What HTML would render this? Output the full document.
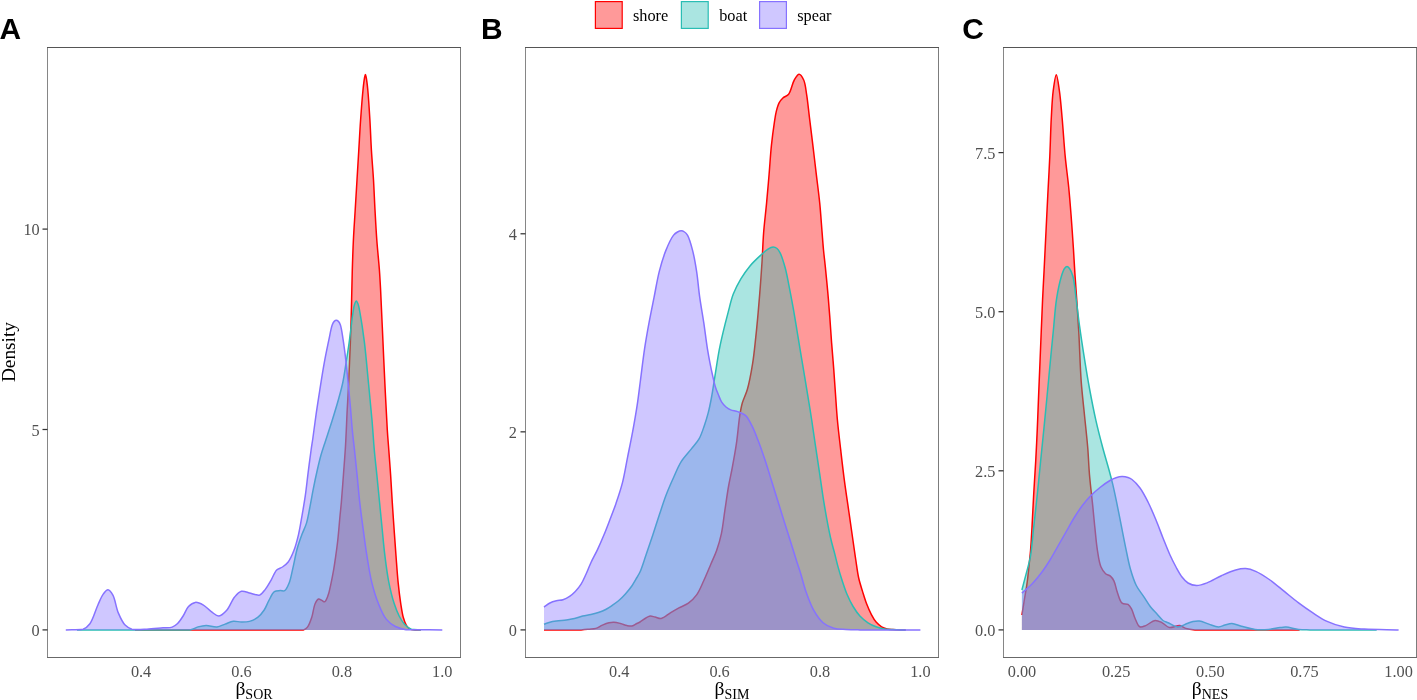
<!DOCTYPE html>
<html><head><meta charset="utf-8"><style>
html,body{margin:0;padding:0;background:#fff;width:1417px;height:700px;overflow:hidden;font-family:"Liberation Serif",serif;}
svg{display:block;will-change:transform;}
</style></head><body>
<svg width="1417" height="700" viewBox="0 0 1417 700" font-family="Liberation Serif, serif">
<rect width="1417" height="700" fill="#fff"/>
<path d="M135.00,629.90 L135.00,629.90 C191.20,629.90 288.74,629.90 303.60,629.90 C306.16,629.05 306.42,628.39 307.60,626.90 C309.29,624.75 310.51,620.90 311.70,617.40 C313.08,613.32 313.59,607.08 315.10,603.80 C316.08,601.67 317.20,599.38 318.50,599.00 C319.53,598.70 320.84,599.91 321.90,600.40 C322.86,600.85 323.76,602.06 324.60,601.80 C325.88,601.41 327.05,598.02 328.00,595.60 C329.19,592.56 329.84,588.62 330.70,584.80 C331.66,580.54 332.60,575.74 333.40,571.20 C334.20,566.68 334.81,562.43 335.50,557.60 C336.28,552.12 337.10,546.33 337.80,540.00 C338.62,532.63 339.35,522.80 340.00,516.00 C340.48,510.98 340.84,508.12 341.30,502.90 C341.98,495.15 342.79,483.56 343.50,474.00 C344.19,464.59 344.91,455.92 345.50,446.00 C346.17,434.76 346.64,421.03 347.20,410.00 C347.67,400.63 348.11,394.35 348.60,384.00 C349.32,368.68 350.28,346.00 350.90,327.00 C351.52,308.00 351.81,285.98 352.30,270.00 C352.65,258.41 352.92,250.00 353.40,240.00 C353.88,230.00 354.60,220.00 355.20,210.00 C355.80,200.00 356.40,190.00 357.00,180.00 C357.60,170.00 358.20,160.00 358.80,150.00 C359.40,140.00 359.90,130.00 360.60,120.00 C361.30,110.00 362.21,97.74 363.00,90.00 C363.50,85.09 363.97,80.82 364.50,78.00 C364.79,76.44 365.10,74.40 365.40,74.40 C365.70,74.40 366.01,76.44 366.30,78.00 C366.83,80.82 367.32,85.09 367.80,90.00 C368.55,97.74 369.30,110.00 369.90,120.00 C370.50,130.00 370.80,140.00 371.40,150.00 C372.00,160.00 372.90,170.00 373.50,180.00 C374.10,190.00 374.45,200.00 375.00,210.00 C375.55,220.00 376.07,230.00 376.80,240.00 C377.53,250.00 378.74,261.01 379.40,270.00 C379.94,277.34 380.19,282.31 380.60,290.00 C381.15,300.45 381.67,313.34 382.30,327.00 C383.08,343.96 384.02,366.02 384.90,384.00 C385.69,400.16 386.53,417.82 387.30,430.00 C387.81,438.04 388.28,442.87 388.80,450.00 C389.40,458.19 390.12,467.59 390.70,476.40 C391.28,485.22 391.73,494.08 392.30,502.90 C392.87,511.71 393.48,520.50 394.10,529.30 C394.72,538.10 395.33,546.90 396.00,555.70 C396.67,564.50 397.26,573.79 398.10,582.10 C398.85,589.56 399.72,596.92 400.70,603.30 C401.52,608.60 402.24,613.74 403.40,617.80 C404.28,620.88 405.19,623.69 406.50,625.70 C407.50,627.23 408.59,628.50 410.00,629.20 C411.42,629.90 413.27,629.78 415.00,629.90 C416.86,629.90 418.87,629.90 420.80,629.90 L420.80,629.90 Z" fill="#FF0000" fill-opacity="0.4" stroke="none"/>
<path d="M135.00,629.90 C191.20,629.90 288.74,629.90 303.60,629.90 C306.16,629.05 306.42,628.39 307.60,626.90 C309.29,624.75 310.51,620.90 311.70,617.40 C313.08,613.32 313.59,607.08 315.10,603.80 C316.08,601.67 317.20,599.38 318.50,599.00 C319.53,598.70 320.84,599.91 321.90,600.40 C322.86,600.85 323.76,602.06 324.60,601.80 C325.88,601.41 327.05,598.02 328.00,595.60 C329.19,592.56 329.84,588.62 330.70,584.80 C331.66,580.54 332.60,575.74 333.40,571.20 C334.20,566.68 334.81,562.43 335.50,557.60 C336.28,552.12 337.10,546.33 337.80,540.00 C338.62,532.63 339.35,522.80 340.00,516.00 C340.48,510.98 340.84,508.12 341.30,502.90 C341.98,495.15 342.79,483.56 343.50,474.00 C344.19,464.59 344.91,455.92 345.50,446.00 C346.17,434.76 346.64,421.03 347.20,410.00 C347.67,400.63 348.11,394.35 348.60,384.00 C349.32,368.68 350.28,346.00 350.90,327.00 C351.52,308.00 351.81,285.98 352.30,270.00 C352.65,258.41 352.92,250.00 353.40,240.00 C353.88,230.00 354.60,220.00 355.20,210.00 C355.80,200.00 356.40,190.00 357.00,180.00 C357.60,170.00 358.20,160.00 358.80,150.00 C359.40,140.00 359.90,130.00 360.60,120.00 C361.30,110.00 362.21,97.74 363.00,90.00 C363.50,85.09 363.97,80.82 364.50,78.00 C364.79,76.44 365.10,74.40 365.40,74.40 C365.70,74.40 366.01,76.44 366.30,78.00 C366.83,80.82 367.32,85.09 367.80,90.00 C368.55,97.74 369.30,110.00 369.90,120.00 C370.50,130.00 370.80,140.00 371.40,150.00 C372.00,160.00 372.90,170.00 373.50,180.00 C374.10,190.00 374.45,200.00 375.00,210.00 C375.55,220.00 376.07,230.00 376.80,240.00 C377.53,250.00 378.74,261.01 379.40,270.00 C379.94,277.34 380.19,282.31 380.60,290.00 C381.15,300.45 381.67,313.34 382.30,327.00 C383.08,343.96 384.02,366.02 384.90,384.00 C385.69,400.16 386.53,417.82 387.30,430.00 C387.81,438.04 388.28,442.87 388.80,450.00 C389.40,458.19 390.12,467.59 390.70,476.40 C391.28,485.22 391.73,494.08 392.30,502.90 C392.87,511.71 393.48,520.50 394.10,529.30 C394.72,538.10 395.33,546.90 396.00,555.70 C396.67,564.50 397.26,573.79 398.10,582.10 C398.85,589.56 399.72,596.92 400.70,603.30 C401.52,608.60 402.24,613.74 403.40,617.80 C404.28,620.88 405.19,623.69 406.50,625.70 C407.50,627.23 408.59,628.50 410.00,629.20 C411.42,629.90 413.27,629.78 415.00,629.90 C416.86,629.90 418.87,629.90 420.80,629.90" fill="none" stroke="#FF0000" stroke-width="1.5" stroke-linejoin="round"/>
<path d="M77.00,629.90 L77.00,629.90 C114.60,629.90 173.93,629.90 189.80,629.90 C194.22,629.12 195.24,627.64 198.00,626.90 C200.68,626.19 203.19,625.56 206.10,625.50 C209.46,625.43 213.67,627.24 217.00,626.90 C219.94,626.60 222.39,625.05 225.10,624.10 C227.83,623.15 230.54,621.52 233.30,621.20 C235.97,620.89 238.70,622.07 241.40,622.10 C244.10,622.13 246.86,622.13 249.50,621.40 C252.30,620.63 255.28,619.24 257.70,617.40 C260.21,615.48 262.38,612.73 264.20,610.00 C266.05,607.23 267.03,603.90 268.70,600.90 C270.42,597.80 272.09,593.29 274.40,591.70 C276.11,590.53 278.38,590.77 280.20,590.60 C281.79,590.45 283.38,591.37 284.70,590.60 C286.60,589.50 288.04,585.73 289.30,582.60 C290.86,578.73 291.51,573.94 292.70,568.90 C294.15,562.74 295.59,554.43 297.30,548.30 C298.71,543.23 300.30,538.95 301.90,534.60 C303.38,530.58 305.22,527.31 306.50,523.10 C307.97,518.26 308.80,512.61 309.90,507.10 C311.07,501.24 312.08,495.02 313.30,488.90 C314.54,482.65 315.94,475.93 317.30,470.00 C318.51,464.70 319.70,459.59 321.00,455.00 C322.12,451.03 323.10,448.33 324.50,444.00 C326.52,437.73 329.65,428.51 332.00,421.00 C334.24,413.85 336.44,406.65 338.30,400.00 C339.96,394.05 341.44,388.95 342.70,383.00 C344.07,376.54 345.05,369.15 346.10,362.60 C347.07,356.52 347.98,350.82 348.80,345.00 C349.61,339.29 350.30,333.49 351.00,328.00 C351.66,322.84 352.23,317.29 352.90,313.00 C353.41,309.76 353.76,306.69 354.50,304.50 C355.00,303.00 355.69,300.91 356.30,300.90 C356.92,300.89 357.66,303.00 358.20,304.50 C358.99,306.67 359.34,309.26 360.00,312.90 C361.22,319.57 362.98,330.91 364.30,341.40 C365.91,354.23 367.27,370.65 368.60,384.30 C369.82,396.74 371.02,408.61 372.00,420.00 C372.90,430.43 373.43,440.32 374.30,450.00 C375.11,459.09 376.12,467.59 377.00,476.40 C377.88,485.22 378.73,494.08 379.60,502.90 C380.47,511.71 381.32,520.50 382.20,529.30 C383.08,538.10 383.80,546.91 384.90,555.70 C386.00,564.51 387.16,573.82 388.80,582.10 C390.29,589.59 392.10,597.13 394.10,603.30 C395.71,608.28 397.42,612.75 399.40,616.50 C401.02,619.57 402.62,622.24 404.70,624.40 C406.63,626.40 408.75,628.27 411.30,629.20 C414.06,629.90 417.63,629.67 420.80,629.90 L420.80,629.90 Z" fill="#2ABDB4" fill-opacity="0.4" stroke="none"/>
<path d="M77.00,629.90 C114.60,629.90 173.93,629.90 189.80,629.90 C194.22,629.12 195.24,627.64 198.00,626.90 C200.68,626.19 203.19,625.56 206.10,625.50 C209.46,625.43 213.67,627.24 217.00,626.90 C219.94,626.60 222.39,625.05 225.10,624.10 C227.83,623.15 230.54,621.52 233.30,621.20 C235.97,620.89 238.70,622.07 241.40,622.10 C244.10,622.13 246.86,622.13 249.50,621.40 C252.30,620.63 255.28,619.24 257.70,617.40 C260.21,615.48 262.38,612.73 264.20,610.00 C266.05,607.23 267.03,603.90 268.70,600.90 C270.42,597.80 272.09,593.29 274.40,591.70 C276.11,590.53 278.38,590.77 280.20,590.60 C281.79,590.45 283.38,591.37 284.70,590.60 C286.60,589.50 288.04,585.73 289.30,582.60 C290.86,578.73 291.51,573.94 292.70,568.90 C294.15,562.74 295.59,554.43 297.30,548.30 C298.71,543.23 300.30,538.95 301.90,534.60 C303.38,530.58 305.22,527.31 306.50,523.10 C307.97,518.26 308.80,512.61 309.90,507.10 C311.07,501.24 312.08,495.02 313.30,488.90 C314.54,482.65 315.94,475.93 317.30,470.00 C318.51,464.70 319.70,459.59 321.00,455.00 C322.12,451.03 323.10,448.33 324.50,444.00 C326.52,437.73 329.65,428.51 332.00,421.00 C334.24,413.85 336.44,406.65 338.30,400.00 C339.96,394.05 341.44,388.95 342.70,383.00 C344.07,376.54 345.05,369.15 346.10,362.60 C347.07,356.52 347.98,350.82 348.80,345.00 C349.61,339.29 350.30,333.49 351.00,328.00 C351.66,322.84 352.23,317.29 352.90,313.00 C353.41,309.76 353.76,306.69 354.50,304.50 C355.00,303.00 355.69,300.91 356.30,300.90 C356.92,300.89 357.66,303.00 358.20,304.50 C358.99,306.67 359.34,309.26 360.00,312.90 C361.22,319.57 362.98,330.91 364.30,341.40 C365.91,354.23 367.27,370.65 368.60,384.30 C369.82,396.74 371.02,408.61 372.00,420.00 C372.90,430.43 373.43,440.32 374.30,450.00 C375.11,459.09 376.12,467.59 377.00,476.40 C377.88,485.22 378.73,494.08 379.60,502.90 C380.47,511.71 381.32,520.50 382.20,529.30 C383.08,538.10 383.80,546.91 384.90,555.70 C386.00,564.51 387.16,573.82 388.80,582.10 C390.29,589.59 392.10,597.13 394.10,603.30 C395.71,608.28 397.42,612.75 399.40,616.50 C401.02,619.57 402.62,622.24 404.70,624.40 C406.63,626.40 408.75,628.27 411.30,629.20 C414.06,629.90 417.63,629.67 420.80,629.90" fill="none" stroke="#2ABDB4" stroke-width="1.5" stroke-linejoin="round"/>
<path d="M65.80,629.90 L65.80,629.90 C71.57,629.67 78.84,629.90 83.10,629.20 C86.13,628.06 87.83,626.44 89.90,623.70 C93.07,619.50 95.50,610.11 98.00,604.70 C99.91,600.56 101.40,596.52 103.40,593.90 C104.83,592.03 106.48,589.72 108.00,589.80 C109.65,589.89 111.46,592.67 112.90,595.20 C115.19,599.24 116.07,607.65 118.30,612.90 C120.24,617.46 122.41,622.32 125.10,625.10 C127.13,627.20 129.06,628.41 131.90,629.20 C135.79,629.90 141.73,629.42 146.80,629.20 C152.12,628.97 158.45,628.18 163.10,627.80 C166.57,627.52 169.65,627.98 172.20,627.10 C174.35,626.36 175.92,625.10 177.60,623.50 C179.61,621.58 181.35,618.70 183.10,616.00 C185.00,613.07 186.24,608.82 188.50,606.50 C190.43,604.52 192.87,602.67 195.30,602.40 C197.82,602.12 200.82,603.67 203.40,605.10 C206.28,606.70 208.85,610.02 211.60,611.90 C214.05,613.57 216.57,616.14 219.00,616.00 C221.54,615.85 224.19,613.12 226.50,610.60 C229.52,607.30 231.71,600.39 234.60,597.00 C236.76,594.46 238.86,591.95 241.40,591.30 C243.85,590.67 247.07,592.31 249.50,592.90 C251.52,593.39 253.23,594.13 255.00,594.50 C256.59,594.83 258.11,595.61 259.60,595.10 C261.57,594.43 263.52,591.64 265.30,589.40 C267.36,586.82 269.14,583.45 271.00,580.30 C272.95,577.00 274.40,572.24 276.70,570.00 C278.41,568.34 280.65,568.26 282.50,567.00 C284.50,565.64 286.49,564.22 288.20,562.00 C290.42,559.13 292.26,554.80 293.90,550.60 C295.77,545.79 297.19,540.15 298.50,534.60 C299.88,528.74 300.80,522.59 301.90,516.30 C303.07,509.64 304.29,502.75 305.30,495.70 C306.36,488.30 307.13,480.51 308.10,472.90 C309.07,465.27 310.20,456.41 311.10,450.00 C311.75,445.36 312.22,442.73 312.90,438.00 C313.88,431.16 315.12,421.07 316.30,412.90 C317.43,405.09 318.54,397.97 319.80,390.00 C321.18,381.27 322.71,371.31 324.30,362.60 C325.76,354.61 327.46,346.48 328.90,339.70 C330.06,334.25 330.99,328.19 332.20,325.00 C332.84,323.33 333.39,322.19 334.20,321.40 C334.82,320.80 335.60,320.30 336.30,320.30 C337.00,320.30 337.78,320.80 338.40,321.40 C339.21,322.19 339.80,323.33 340.40,325.00 C341.54,328.19 342.24,334.25 343.10,339.70 C344.17,346.48 345.22,354.97 346.10,362.60 C346.98,370.20 347.67,377.82 348.40,385.40 C349.13,392.95 349.85,400.52 350.50,408.00 C351.14,415.38 351.61,422.85 352.30,430.00 C352.95,436.83 353.74,442.87 354.50,450.00 C355.37,458.19 356.32,467.59 357.20,476.40 C358.08,485.22 358.80,494.08 359.80,502.90 C360.80,511.72 362.02,520.50 363.20,529.30 C364.38,538.10 365.49,546.91 366.90,555.70 C368.32,564.51 369.67,573.84 371.70,582.10 C373.55,589.61 375.70,596.85 378.30,603.30 C380.62,609.06 382.95,615.07 386.20,619.10 C388.86,622.39 392.04,624.73 395.40,626.50 C398.66,628.22 401.35,629.00 406.00,629.70 C414.43,629.90 430.20,629.83 442.30,629.90 L442.30,629.90 Z" fill="#8672FF" fill-opacity="0.4" stroke="none"/>
<path d="M65.80,629.90 C71.57,629.67 78.84,629.90 83.10,629.20 C86.13,628.06 87.83,626.44 89.90,623.70 C93.07,619.50 95.50,610.11 98.00,604.70 C99.91,600.56 101.40,596.52 103.40,593.90 C104.83,592.03 106.48,589.72 108.00,589.80 C109.65,589.89 111.46,592.67 112.90,595.20 C115.19,599.24 116.07,607.65 118.30,612.90 C120.24,617.46 122.41,622.32 125.10,625.10 C127.13,627.20 129.06,628.41 131.90,629.20 C135.79,629.90 141.73,629.42 146.80,629.20 C152.12,628.97 158.45,628.18 163.10,627.80 C166.57,627.52 169.65,627.98 172.20,627.10 C174.35,626.36 175.92,625.10 177.60,623.50 C179.61,621.58 181.35,618.70 183.10,616.00 C185.00,613.07 186.24,608.82 188.50,606.50 C190.43,604.52 192.87,602.67 195.30,602.40 C197.82,602.12 200.82,603.67 203.40,605.10 C206.28,606.70 208.85,610.02 211.60,611.90 C214.05,613.57 216.57,616.14 219.00,616.00 C221.54,615.85 224.19,613.12 226.50,610.60 C229.52,607.30 231.71,600.39 234.60,597.00 C236.76,594.46 238.86,591.95 241.40,591.30 C243.85,590.67 247.07,592.31 249.50,592.90 C251.52,593.39 253.23,594.13 255.00,594.50 C256.59,594.83 258.11,595.61 259.60,595.10 C261.57,594.43 263.52,591.64 265.30,589.40 C267.36,586.82 269.14,583.45 271.00,580.30 C272.95,577.00 274.40,572.24 276.70,570.00 C278.41,568.34 280.65,568.26 282.50,567.00 C284.50,565.64 286.49,564.22 288.20,562.00 C290.42,559.13 292.26,554.80 293.90,550.60 C295.77,545.79 297.19,540.15 298.50,534.60 C299.88,528.74 300.80,522.59 301.90,516.30 C303.07,509.64 304.29,502.75 305.30,495.70 C306.36,488.30 307.13,480.51 308.10,472.90 C309.07,465.27 310.20,456.41 311.10,450.00 C311.75,445.36 312.22,442.73 312.90,438.00 C313.88,431.16 315.12,421.07 316.30,412.90 C317.43,405.09 318.54,397.97 319.80,390.00 C321.18,381.27 322.71,371.31 324.30,362.60 C325.76,354.61 327.46,346.48 328.90,339.70 C330.06,334.25 330.99,328.19 332.20,325.00 C332.84,323.33 333.39,322.19 334.20,321.40 C334.82,320.80 335.60,320.30 336.30,320.30 C337.00,320.30 337.78,320.80 338.40,321.40 C339.21,322.19 339.80,323.33 340.40,325.00 C341.54,328.19 342.24,334.25 343.10,339.70 C344.17,346.48 345.22,354.97 346.10,362.60 C346.98,370.20 347.67,377.82 348.40,385.40 C349.13,392.95 349.85,400.52 350.50,408.00 C351.14,415.38 351.61,422.85 352.30,430.00 C352.95,436.83 353.74,442.87 354.50,450.00 C355.37,458.19 356.32,467.59 357.20,476.40 C358.08,485.22 358.80,494.08 359.80,502.90 C360.80,511.72 362.02,520.50 363.20,529.30 C364.38,538.10 365.49,546.91 366.90,555.70 C368.32,564.51 369.67,573.84 371.70,582.10 C373.55,589.61 375.70,596.85 378.30,603.30 C380.62,609.06 382.95,615.07 386.20,619.10 C388.86,622.39 392.04,624.73 395.40,626.50 C398.66,628.22 401.35,629.00 406.00,629.70 C414.43,629.90 430.20,629.83 442.30,629.90" fill="none" stroke="#8672FF" stroke-width="1.5" stroke-linejoin="round"/>

<path d="M544.00,629.90 L544.00,629.90 C556.37,629.90 573.20,629.90 581.10,629.90 C584.82,629.74 586.73,629.47 589.30,629.20 C591.59,628.96 593.68,629.04 595.80,628.40 C598.05,627.72 600.17,626.06 602.40,625.10 C604.57,624.17 606.94,623.17 609.00,622.70 C610.73,622.30 612.15,622.12 613.90,622.20 C615.94,622.29 618.32,622.94 620.50,623.50 C622.69,624.07 624.95,625.19 627.00,625.60 C628.75,625.95 630.39,626.32 632.00,626.00 C633.69,625.66 635.45,624.22 636.90,623.50 C638.05,622.93 638.71,622.71 640.00,622.00 C642.31,620.73 646.57,616.79 649.40,616.20 C651.42,615.78 653.09,616.63 655.00,617.00 C657.02,617.39 658.99,618.85 661.20,618.50 C664.12,618.03 667.63,614.43 670.70,612.60 C673.52,610.92 676.04,609.42 678.90,607.90 C681.93,606.29 685.51,605.29 688.40,603.20 C691.43,601.01 694.19,598.26 696.60,594.90 C699.40,591.00 701.40,585.72 703.70,580.80 C706.15,575.55 708.56,569.59 710.80,564.30 C712.87,559.42 714.97,555.15 716.70,550.20 C718.54,544.94 720.10,539.66 721.40,533.60 C722.93,526.49 723.71,517.98 724.90,510.10 C726.11,502.12 727.29,493.43 728.60,486.00 C729.74,479.55 731.00,474.46 732.20,468.00 C733.60,460.52 735.17,452.12 736.40,443.70 C737.73,434.64 738.60,422.90 739.80,415.40 C740.60,410.41 741.11,407.19 742.30,403.00 C743.58,398.50 745.87,394.65 747.40,389.30 C749.44,382.14 751.21,372.19 752.60,363.60 C753.98,355.06 754.77,346.48 755.70,337.90 C756.63,329.31 757.43,320.69 758.20,312.10 C758.97,303.53 759.65,294.97 760.30,286.40 C760.95,277.84 761.56,269.43 762.10,260.70 C762.66,251.64 762.88,242.42 763.60,233.00 C764.36,223.17 765.67,212.81 766.60,202.90 C767.50,193.25 768.30,183.83 769.10,174.30 C769.90,164.77 770.47,154.68 771.40,145.70 C772.23,137.66 773.35,129.20 774.30,122.90 C774.98,118.41 775.42,114.91 776.30,111.40 C777.07,108.32 777.85,105.26 779.10,102.90 C780.14,100.94 781.37,99.41 782.90,98.00 C784.51,96.52 786.95,96.31 788.60,94.30 C791.08,91.28 792.16,83.57 794.30,80.00 C795.79,77.52 797.53,74.28 799.10,74.30 C800.66,74.32 802.52,77.49 803.70,80.00 C805.37,83.55 805.73,88.96 806.60,94.30 C807.69,101.00 808.42,109.07 809.40,117.10 C810.50,126.09 811.75,136.17 812.90,145.70 C814.05,155.23 815.17,164.77 816.30,174.30 C817.43,183.83 818.75,193.37 819.70,202.90 C820.65,212.40 821.32,222.91 822.00,231.40 C822.55,238.26 822.94,244.07 823.50,250.00 C824.02,255.46 824.60,259.82 825.20,265.70 C825.97,273.21 826.93,282.83 827.70,291.40 C828.47,299.96 829.15,308.52 829.80,317.10 C830.45,325.69 830.95,334.31 831.60,342.90 C832.25,351.48 833.05,360.03 833.70,368.60 C834.35,377.16 834.88,385.73 835.50,394.30 C836.12,402.87 836.57,411.06 837.40,420.00 C838.30,429.79 839.62,440.47 840.80,450.70 C841.98,460.94 843.15,471.18 844.50,481.40 C845.85,491.62 847.47,502.03 848.90,512.00 C850.27,521.54 851.67,531.45 852.90,540.00 C853.94,547.23 854.81,553.51 855.80,560.00 C856.74,566.16 857.46,572.45 858.70,578.00 C859.79,582.89 861.25,587.20 862.60,591.60 C863.89,595.79 865.10,599.89 866.60,603.80 C868.04,607.55 869.69,611.38 871.40,614.60 C872.88,617.39 874.29,620.00 876.10,622.10 C877.74,624.00 879.67,625.65 881.60,626.80 C883.32,627.83 885.12,628.43 887.00,628.90 C888.92,629.38 890.92,629.43 893.00,629.60 C895.24,629.78 897.79,629.85 900.00,629.90 C902.00,629.90 903.80,629.90 905.70,629.90 L905.70,629.90 Z" fill="#FF0000" fill-opacity="0.4" stroke="none"/>
<path d="M544.00,629.90 C556.37,629.90 573.20,629.90 581.10,629.90 C584.82,629.74 586.73,629.47 589.30,629.20 C591.59,628.96 593.68,629.04 595.80,628.40 C598.05,627.72 600.17,626.06 602.40,625.10 C604.57,624.17 606.94,623.17 609.00,622.70 C610.73,622.30 612.15,622.12 613.90,622.20 C615.94,622.29 618.32,622.94 620.50,623.50 C622.69,624.07 624.95,625.19 627.00,625.60 C628.75,625.95 630.39,626.32 632.00,626.00 C633.69,625.66 635.45,624.22 636.90,623.50 C638.05,622.93 638.71,622.71 640.00,622.00 C642.31,620.73 646.57,616.79 649.40,616.20 C651.42,615.78 653.09,616.63 655.00,617.00 C657.02,617.39 658.99,618.85 661.20,618.50 C664.12,618.03 667.63,614.43 670.70,612.60 C673.52,610.92 676.04,609.42 678.90,607.90 C681.93,606.29 685.51,605.29 688.40,603.20 C691.43,601.01 694.19,598.26 696.60,594.90 C699.40,591.00 701.40,585.72 703.70,580.80 C706.15,575.55 708.56,569.59 710.80,564.30 C712.87,559.42 714.97,555.15 716.70,550.20 C718.54,544.94 720.10,539.66 721.40,533.60 C722.93,526.49 723.71,517.98 724.90,510.10 C726.11,502.12 727.29,493.43 728.60,486.00 C729.74,479.55 731.00,474.46 732.20,468.00 C733.60,460.52 735.17,452.12 736.40,443.70 C737.73,434.64 738.60,422.90 739.80,415.40 C740.60,410.41 741.11,407.19 742.30,403.00 C743.58,398.50 745.87,394.65 747.40,389.30 C749.44,382.14 751.21,372.19 752.60,363.60 C753.98,355.06 754.77,346.48 755.70,337.90 C756.63,329.31 757.43,320.69 758.20,312.10 C758.97,303.53 759.65,294.97 760.30,286.40 C760.95,277.84 761.56,269.43 762.10,260.70 C762.66,251.64 762.88,242.42 763.60,233.00 C764.36,223.17 765.67,212.81 766.60,202.90 C767.50,193.25 768.30,183.83 769.10,174.30 C769.90,164.77 770.47,154.68 771.40,145.70 C772.23,137.66 773.35,129.20 774.30,122.90 C774.98,118.41 775.42,114.91 776.30,111.40 C777.07,108.32 777.85,105.26 779.10,102.90 C780.14,100.94 781.37,99.41 782.90,98.00 C784.51,96.52 786.95,96.31 788.60,94.30 C791.08,91.28 792.16,83.57 794.30,80.00 C795.79,77.52 797.53,74.28 799.10,74.30 C800.66,74.32 802.52,77.49 803.70,80.00 C805.37,83.55 805.73,88.96 806.60,94.30 C807.69,101.00 808.42,109.07 809.40,117.10 C810.50,126.09 811.75,136.17 812.90,145.70 C814.05,155.23 815.17,164.77 816.30,174.30 C817.43,183.83 818.75,193.37 819.70,202.90 C820.65,212.40 821.32,222.91 822.00,231.40 C822.55,238.26 822.94,244.07 823.50,250.00 C824.02,255.46 824.60,259.82 825.20,265.70 C825.97,273.21 826.93,282.83 827.70,291.40 C828.47,299.96 829.15,308.52 829.80,317.10 C830.45,325.69 830.95,334.31 831.60,342.90 C832.25,351.48 833.05,360.03 833.70,368.60 C834.35,377.16 834.88,385.73 835.50,394.30 C836.12,402.87 836.57,411.06 837.40,420.00 C838.30,429.79 839.62,440.47 840.80,450.70 C841.98,460.94 843.15,471.18 844.50,481.40 C845.85,491.62 847.47,502.03 848.90,512.00 C850.27,521.54 851.67,531.45 852.90,540.00 C853.94,547.23 854.81,553.51 855.80,560.00 C856.74,566.16 857.46,572.45 858.70,578.00 C859.79,582.89 861.25,587.20 862.60,591.60 C863.89,595.79 865.10,599.89 866.60,603.80 C868.04,607.55 869.69,611.38 871.40,614.60 C872.88,617.39 874.29,620.00 876.10,622.10 C877.74,624.00 879.67,625.65 881.60,626.80 C883.32,627.83 885.12,628.43 887.00,628.90 C888.92,629.38 890.92,629.43 893.00,629.60 C895.24,629.78 897.79,629.85 900.00,629.90 C902.00,629.90 903.80,629.90 905.70,629.90" fill="none" stroke="#FF0000" stroke-width="1.5" stroke-linejoin="round"/>
<path d="M544.00,629.90 L544.00,624.30 C545.97,623.60 547.86,622.75 549.90,622.20 C551.99,621.64 554.00,621.35 556.40,621.00 C559.35,620.56 563.16,620.32 566.30,619.90 C569.17,619.51 571.79,619.23 574.50,618.60 C577.26,617.96 579.95,616.79 582.70,616.10 C585.42,615.42 588.18,615.13 590.90,614.50 C593.64,613.86 596.54,613.18 599.10,612.30 C601.45,611.49 603.55,610.62 605.70,609.50 C607.92,608.34 610.05,606.87 612.20,605.40 C614.42,603.88 616.67,602.34 618.80,600.50 C621.07,598.54 623.26,596.28 625.40,593.90 C627.67,591.37 630.05,588.50 632.00,585.70 C633.86,583.03 635.47,579.97 636.90,577.50 C638.07,575.49 638.91,574.40 640.00,572.00 C641.84,567.95 643.95,560.90 646.00,555.00 C648.21,548.61 650.56,541.76 652.80,535.00 C655.09,528.09 657.31,520.86 659.60,514.00 C661.81,507.37 663.88,500.78 666.30,494.50 C668.63,488.46 671.24,482.61 673.80,477.00 C676.22,471.70 678.23,466.42 681.20,461.70 C684.11,457.07 688.25,452.95 691.40,448.90 C694.20,445.30 697.07,442.39 699.20,438.60 C701.41,434.68 702.79,430.02 704.30,425.70 C705.78,421.45 707.05,417.35 708.20,412.90 C709.43,408.15 710.35,403.58 711.40,398.00 C712.73,390.94 714.00,381.86 715.30,373.90 C716.57,366.09 717.73,357.93 719.10,350.70 C720.32,344.30 721.55,338.89 723.00,332.70 C724.56,326.05 726.43,318.72 728.20,312.10 C729.86,305.89 731.10,299.77 733.30,294.10 C735.41,288.66 738.14,283.50 741.00,278.70 C743.73,274.13 746.72,269.81 750.00,265.90 C753.17,262.13 757.06,258.58 760.30,255.60 C763.00,253.12 765.57,250.54 768.00,249.10 C769.81,248.03 771.60,247.11 773.20,247.10 C774.56,247.09 775.91,247.66 777.00,248.50 C778.26,249.47 779.08,250.89 780.10,252.90 C781.87,256.39 783.83,262.92 785.30,268.30 C786.86,274.02 787.86,280.09 789.10,286.30 C790.43,292.93 791.73,299.83 793.00,306.90 C794.34,314.37 795.62,322.30 796.90,330.00 C798.18,337.70 799.42,345.39 800.70,353.10 C801.98,360.83 803.32,368.57 804.60,376.30 C805.88,384.01 807.19,391.92 808.40,399.40 C809.55,406.46 810.60,412.83 811.70,420.00 C812.90,427.83 814.02,435.95 815.30,444.60 C816.73,454.27 818.37,465.07 819.90,475.30 C821.43,485.53 822.74,495.68 824.50,506.00 C826.30,516.57 828.62,529.26 830.60,538.00 C831.99,544.15 833.41,548.58 834.70,553.60 C835.90,558.26 836.86,562.61 838.10,567.10 C839.36,571.64 840.72,576.18 842.20,580.70 C843.69,585.25 845.15,589.94 847.00,594.30 C848.80,598.54 850.85,602.77 853.10,606.50 C855.18,609.95 857.34,613.24 859.90,616.00 C862.34,618.63 865.18,620.96 868.00,622.80 C870.60,624.50 873.34,625.78 876.10,626.80 C878.77,627.79 881.59,628.45 884.30,628.90 C886.89,629.33 889.41,629.33 892.00,629.50 C894.64,629.67 897.56,629.84 900.00,629.90 C902.06,629.90 903.80,629.90 905.70,629.90 L905.70,629.90 Z" fill="#2ABDB4" fill-opacity="0.4" stroke="none"/>
<path d="M544.00,624.30 C545.97,623.60 547.86,622.75 549.90,622.20 C551.99,621.64 554.00,621.35 556.40,621.00 C559.35,620.56 563.16,620.32 566.30,619.90 C569.17,619.51 571.79,619.23 574.50,618.60 C577.26,617.96 579.95,616.79 582.70,616.10 C585.42,615.42 588.18,615.13 590.90,614.50 C593.64,613.86 596.54,613.18 599.10,612.30 C601.45,611.49 603.55,610.62 605.70,609.50 C607.92,608.34 610.05,606.87 612.20,605.40 C614.42,603.88 616.67,602.34 618.80,600.50 C621.07,598.54 623.26,596.28 625.40,593.90 C627.67,591.37 630.05,588.50 632.00,585.70 C633.86,583.03 635.47,579.97 636.90,577.50 C638.07,575.49 638.91,574.40 640.00,572.00 C641.84,567.95 643.95,560.90 646.00,555.00 C648.21,548.61 650.56,541.76 652.80,535.00 C655.09,528.09 657.31,520.86 659.60,514.00 C661.81,507.37 663.88,500.78 666.30,494.50 C668.63,488.46 671.24,482.61 673.80,477.00 C676.22,471.70 678.23,466.42 681.20,461.70 C684.11,457.07 688.25,452.95 691.40,448.90 C694.20,445.30 697.07,442.39 699.20,438.60 C701.41,434.68 702.79,430.02 704.30,425.70 C705.78,421.45 707.05,417.35 708.20,412.90 C709.43,408.15 710.35,403.58 711.40,398.00 C712.73,390.94 714.00,381.86 715.30,373.90 C716.57,366.09 717.73,357.93 719.10,350.70 C720.32,344.30 721.55,338.89 723.00,332.70 C724.56,326.05 726.43,318.72 728.20,312.10 C729.86,305.89 731.10,299.77 733.30,294.10 C735.41,288.66 738.14,283.50 741.00,278.70 C743.73,274.13 746.72,269.81 750.00,265.90 C753.17,262.13 757.06,258.58 760.30,255.60 C763.00,253.12 765.57,250.54 768.00,249.10 C769.81,248.03 771.60,247.11 773.20,247.10 C774.56,247.09 775.91,247.66 777.00,248.50 C778.26,249.47 779.08,250.89 780.10,252.90 C781.87,256.39 783.83,262.92 785.30,268.30 C786.86,274.02 787.86,280.09 789.10,286.30 C790.43,292.93 791.73,299.83 793.00,306.90 C794.34,314.37 795.62,322.30 796.90,330.00 C798.18,337.70 799.42,345.39 800.70,353.10 C801.98,360.83 803.32,368.57 804.60,376.30 C805.88,384.01 807.19,391.92 808.40,399.40 C809.55,406.46 810.60,412.83 811.70,420.00 C812.90,427.83 814.02,435.95 815.30,444.60 C816.73,454.27 818.37,465.07 819.90,475.30 C821.43,485.53 822.74,495.68 824.50,506.00 C826.30,516.57 828.62,529.26 830.60,538.00 C831.99,544.15 833.41,548.58 834.70,553.60 C835.90,558.26 836.86,562.61 838.10,567.10 C839.36,571.64 840.72,576.18 842.20,580.70 C843.69,585.25 845.15,589.94 847.00,594.30 C848.80,598.54 850.85,602.77 853.10,606.50 C855.18,609.95 857.34,613.24 859.90,616.00 C862.34,618.63 865.18,620.96 868.00,622.80 C870.60,624.50 873.34,625.78 876.10,626.80 C878.77,627.79 881.59,628.45 884.30,628.90 C886.89,629.33 889.41,629.33 892.00,629.50 C894.64,629.67 897.56,629.84 900.00,629.90 C902.06,629.90 903.80,629.90 905.70,629.90" fill="none" stroke="#2ABDB4" stroke-width="1.5" stroke-linejoin="round"/>
<path d="M544.00,629.90 L544.00,607.10 C545.97,605.73 547.81,604.05 549.90,603.00 C551.95,601.97 554.20,601.35 556.40,600.80 C558.57,600.26 560.85,600.40 563.00,599.70 C565.26,598.97 567.56,597.76 569.60,596.40 C571.66,595.03 573.48,593.40 575.30,591.50 C577.33,589.37 579.37,586.84 581.10,584.10 C582.97,581.13 584.41,577.65 586.00,574.20 C587.69,570.53 589.08,566.63 590.90,562.70 C592.88,558.44 595.37,554.13 597.50,549.60 C599.74,544.85 601.94,539.75 604.00,534.80 C606.04,529.89 607.85,525.08 609.80,520.00 C611.85,514.63 613.99,509.25 616.00,503.40 C618.21,496.96 620.54,490.18 622.40,482.90 C624.46,474.84 625.88,465.69 627.60,457.10 C629.31,448.53 631.12,439.98 632.70,431.40 C634.28,422.84 635.80,414.28 637.10,405.70 C638.40,397.15 639.32,389.00 640.50,380.00 C641.81,370.06 643.10,358.53 644.60,348.60 C645.96,339.59 647.42,331.46 649.00,322.90 C650.59,314.30 652.38,305.69 654.10,297.10 C655.82,288.52 657.24,279.43 659.30,271.40 C661.17,264.13 663.18,257.17 665.70,250.90 C667.96,245.28 670.90,238.56 673.40,235.40 C674.79,233.65 676.09,232.77 677.50,232.00 C678.70,231.34 680.01,230.78 681.20,230.80 C682.33,230.82 683.49,231.32 684.50,232.00 C685.65,232.77 686.61,233.71 687.60,235.40 C689.46,238.59 691.26,245.32 692.70,250.90 C694.33,257.21 695.48,264.16 696.60,271.40 C697.85,279.46 698.50,288.54 699.70,297.10 C700.90,305.70 702.51,314.30 703.80,322.90 C705.08,331.47 706.21,341.19 707.40,348.60 C708.31,354.28 709.19,358.95 710.10,363.60 C710.89,367.67 711.64,371.18 712.50,375.00 C713.37,378.88 714.20,383.17 715.30,386.70 C716.24,389.74 717.40,392.36 718.50,395.00 C719.53,397.47 720.37,400.04 721.70,402.10 C722.91,403.99 724.43,405.67 726.00,407.00 C727.45,408.22 728.91,409.15 730.70,409.90 C732.74,410.75 735.36,410.75 737.70,411.60 C740.26,412.53 743.17,413.40 745.40,415.40 C748.05,417.79 749.89,421.83 751.90,425.70 C754.25,430.23 756.23,435.74 758.30,441.10 C760.51,446.84 762.61,452.88 764.70,459.10 C766.92,465.72 769.05,472.83 771.20,479.70 C773.35,486.56 775.47,493.43 777.60,500.30 C779.73,507.17 781.85,514.04 784.00,520.90 C786.15,527.74 788.35,534.56 790.50,541.40 C792.65,548.26 795.05,556.21 796.90,562.00 C798.25,566.24 799.20,568.82 800.50,573.00 C802.20,578.46 803.89,585.78 806.10,592.00 C808.32,598.24 810.74,605.04 813.80,610.40 C816.49,615.10 819.42,619.68 823.00,622.70 C826.17,625.38 829.90,627.06 833.70,628.20 C837.56,629.35 841.76,629.22 846.00,629.50 C850.51,629.80 853.70,629.81 860.00,629.90 C873.09,629.90 900.27,629.90 920.40,629.90 L920.40,629.90 Z" fill="#8672FF" fill-opacity="0.4" stroke="none"/>
<path d="M544.00,607.10 C545.97,605.73 547.81,604.05 549.90,603.00 C551.95,601.97 554.20,601.35 556.40,600.80 C558.57,600.26 560.85,600.40 563.00,599.70 C565.26,598.97 567.56,597.76 569.60,596.40 C571.66,595.03 573.48,593.40 575.30,591.50 C577.33,589.37 579.37,586.84 581.10,584.10 C582.97,581.13 584.41,577.65 586.00,574.20 C587.69,570.53 589.08,566.63 590.90,562.70 C592.88,558.44 595.37,554.13 597.50,549.60 C599.74,544.85 601.94,539.75 604.00,534.80 C606.04,529.89 607.85,525.08 609.80,520.00 C611.85,514.63 613.99,509.25 616.00,503.40 C618.21,496.96 620.54,490.18 622.40,482.90 C624.46,474.84 625.88,465.69 627.60,457.10 C629.31,448.53 631.12,439.98 632.70,431.40 C634.28,422.84 635.80,414.28 637.10,405.70 C638.40,397.15 639.32,389.00 640.50,380.00 C641.81,370.06 643.10,358.53 644.60,348.60 C645.96,339.59 647.42,331.46 649.00,322.90 C650.59,314.30 652.38,305.69 654.10,297.10 C655.82,288.52 657.24,279.43 659.30,271.40 C661.17,264.13 663.18,257.17 665.70,250.90 C667.96,245.28 670.90,238.56 673.40,235.40 C674.79,233.65 676.09,232.77 677.50,232.00 C678.70,231.34 680.01,230.78 681.20,230.80 C682.33,230.82 683.49,231.32 684.50,232.00 C685.65,232.77 686.61,233.71 687.60,235.40 C689.46,238.59 691.26,245.32 692.70,250.90 C694.33,257.21 695.48,264.16 696.60,271.40 C697.85,279.46 698.50,288.54 699.70,297.10 C700.90,305.70 702.51,314.30 703.80,322.90 C705.08,331.47 706.21,341.19 707.40,348.60 C708.31,354.28 709.19,358.95 710.10,363.60 C710.89,367.67 711.64,371.18 712.50,375.00 C713.37,378.88 714.20,383.17 715.30,386.70 C716.24,389.74 717.40,392.36 718.50,395.00 C719.53,397.47 720.37,400.04 721.70,402.10 C722.91,403.99 724.43,405.67 726.00,407.00 C727.45,408.22 728.91,409.15 730.70,409.90 C732.74,410.75 735.36,410.75 737.70,411.60 C740.26,412.53 743.17,413.40 745.40,415.40 C748.05,417.79 749.89,421.83 751.90,425.70 C754.25,430.23 756.23,435.74 758.30,441.10 C760.51,446.84 762.61,452.88 764.70,459.10 C766.92,465.72 769.05,472.83 771.20,479.70 C773.35,486.56 775.47,493.43 777.60,500.30 C779.73,507.17 781.85,514.04 784.00,520.90 C786.15,527.74 788.35,534.56 790.50,541.40 C792.65,548.26 795.05,556.21 796.90,562.00 C798.25,566.24 799.20,568.82 800.50,573.00 C802.20,578.46 803.89,585.78 806.10,592.00 C808.32,598.24 810.74,605.04 813.80,610.40 C816.49,615.10 819.42,619.68 823.00,622.70 C826.17,625.38 829.90,627.06 833.70,628.20 C837.56,629.35 841.76,629.22 846.00,629.50 C850.51,629.80 853.70,629.81 860.00,629.90 C873.09,629.90 900.27,629.90 920.40,629.90" fill="none" stroke="#8672FF" stroke-width="1.5" stroke-linejoin="round"/>

<path d="M1021.90,629.90 L1021.90,615.00 C1022.70,610.00 1023.46,605.16 1024.30,600.00 C1025.19,594.49 1026.29,588.83 1027.10,582.90 C1027.97,576.53 1028.68,568.93 1029.30,563.00 C1029.80,558.21 1030.20,554.94 1030.60,550.00 C1031.13,543.46 1031.53,535.50 1032.00,527.20 C1032.56,517.24 1033.08,505.27 1033.70,494.30 C1034.32,483.33 1035.10,472.36 1035.70,461.40 C1036.30,450.46 1036.82,439.54 1037.30,428.60 C1037.78,417.64 1038.15,406.73 1038.60,395.70 C1039.05,384.53 1039.54,373.09 1040.00,362.00 C1040.44,351.20 1040.86,340.56 1041.30,330.00 C1041.73,319.66 1042.13,309.22 1042.60,299.30 C1043.04,289.96 1043.50,281.96 1044.00,272.10 C1044.59,260.36 1045.27,246.36 1045.90,233.50 C1046.53,220.66 1047.15,207.84 1047.80,195.00 C1048.45,182.14 1049.22,169.27 1049.80,156.40 C1050.38,143.54 1050.66,129.50 1051.30,117.80 C1051.84,108.02 1052.18,98.71 1053.20,90.90 C1054.00,84.79 1055.27,74.70 1056.30,74.70 C1057.33,74.70 1058.51,84.80 1059.40,90.90 C1060.54,98.71 1061.22,108.02 1062.10,117.80 C1063.16,129.50 1064.03,144.26 1065.20,156.40 C1066.25,167.28 1067.71,177.34 1068.70,187.30 C1069.62,196.60 1070.25,204.67 1071.00,214.30 C1071.86,225.37 1072.79,239.16 1073.50,250.00 C1074.09,259.07 1074.46,266.73 1075.00,275.00 C1075.53,283.16 1076.12,290.59 1076.70,299.30 C1077.38,309.44 1078.12,320.13 1078.80,332.20 C1079.63,346.95 1080.12,366.66 1081.20,381.40 C1082.08,393.48 1083.32,403.33 1084.40,414.30 C1085.48,425.27 1086.83,436.69 1087.70,447.20 C1088.50,456.85 1088.70,465.53 1089.50,475.00 C1090.34,484.92 1091.74,495.92 1092.70,505.40 C1093.55,513.74 1094.20,521.26 1095.00,528.90 C1095.77,536.18 1096.33,543.58 1097.40,550.20 C1098.35,556.08 1099.12,562.49 1100.90,566.70 C1102.16,569.68 1103.79,572.11 1105.60,573.70 C1107.04,574.97 1109.04,574.96 1110.40,576.10 C1111.82,577.29 1112.88,578.76 1113.90,580.80 C1115.38,583.75 1116.01,588.82 1117.40,592.60 C1118.75,596.27 1119.86,601.40 1122.10,603.20 C1123.72,604.50 1126.41,603.41 1128.00,604.40 C1129.57,605.38 1130.53,607.17 1131.60,609.10 C1132.99,611.61 1133.71,615.52 1135.10,618.50 C1136.45,621.41 1137.73,625.86 1139.80,626.80 C1141.45,627.55 1143.57,626.38 1145.70,625.60 C1148.54,624.55 1152.13,620.67 1155.10,620.40 C1157.58,620.18 1159.90,621.68 1162.20,622.80 C1164.65,624.00 1166.83,627.01 1169.30,627.50 C1171.58,627.95 1174.44,626.43 1176.40,626.10 C1177.77,625.87 1178.61,625.40 1179.90,625.60 C1181.65,625.87 1183.56,627.70 1185.80,628.40 C1188.48,629.23 1190.25,629.51 1195.00,629.90 C1210.93,629.90 1264.73,629.90 1299.60,629.90 L1299.60,629.90 Z" fill="#FF0000" fill-opacity="0.4" stroke="none"/>
<path d="M1021.90,615.00 C1022.70,610.00 1023.46,605.16 1024.30,600.00 C1025.19,594.49 1026.29,588.83 1027.10,582.90 C1027.97,576.53 1028.68,568.93 1029.30,563.00 C1029.80,558.21 1030.20,554.94 1030.60,550.00 C1031.13,543.46 1031.53,535.50 1032.00,527.20 C1032.56,517.24 1033.08,505.27 1033.70,494.30 C1034.32,483.33 1035.10,472.36 1035.70,461.40 C1036.30,450.46 1036.82,439.54 1037.30,428.60 C1037.78,417.64 1038.15,406.73 1038.60,395.70 C1039.05,384.53 1039.54,373.09 1040.00,362.00 C1040.44,351.20 1040.86,340.56 1041.30,330.00 C1041.73,319.66 1042.13,309.22 1042.60,299.30 C1043.04,289.96 1043.50,281.96 1044.00,272.10 C1044.59,260.36 1045.27,246.36 1045.90,233.50 C1046.53,220.66 1047.15,207.84 1047.80,195.00 C1048.45,182.14 1049.22,169.27 1049.80,156.40 C1050.38,143.54 1050.66,129.50 1051.30,117.80 C1051.84,108.02 1052.18,98.71 1053.20,90.90 C1054.00,84.79 1055.27,74.70 1056.30,74.70 C1057.33,74.70 1058.51,84.80 1059.40,90.90 C1060.54,98.71 1061.22,108.02 1062.10,117.80 C1063.16,129.50 1064.03,144.26 1065.20,156.40 C1066.25,167.28 1067.71,177.34 1068.70,187.30 C1069.62,196.60 1070.25,204.67 1071.00,214.30 C1071.86,225.37 1072.79,239.16 1073.50,250.00 C1074.09,259.07 1074.46,266.73 1075.00,275.00 C1075.53,283.16 1076.12,290.59 1076.70,299.30 C1077.38,309.44 1078.12,320.13 1078.80,332.20 C1079.63,346.95 1080.12,366.66 1081.20,381.40 C1082.08,393.48 1083.32,403.33 1084.40,414.30 C1085.48,425.27 1086.83,436.69 1087.70,447.20 C1088.50,456.85 1088.70,465.53 1089.50,475.00 C1090.34,484.92 1091.74,495.92 1092.70,505.40 C1093.55,513.74 1094.20,521.26 1095.00,528.90 C1095.77,536.18 1096.33,543.58 1097.40,550.20 C1098.35,556.08 1099.12,562.49 1100.90,566.70 C1102.16,569.68 1103.79,572.11 1105.60,573.70 C1107.04,574.97 1109.04,574.96 1110.40,576.10 C1111.82,577.29 1112.88,578.76 1113.90,580.80 C1115.38,583.75 1116.01,588.82 1117.40,592.60 C1118.75,596.27 1119.86,601.40 1122.10,603.20 C1123.72,604.50 1126.41,603.41 1128.00,604.40 C1129.57,605.38 1130.53,607.17 1131.60,609.10 C1132.99,611.61 1133.71,615.52 1135.10,618.50 C1136.45,621.41 1137.73,625.86 1139.80,626.80 C1141.45,627.55 1143.57,626.38 1145.70,625.60 C1148.54,624.55 1152.13,620.67 1155.10,620.40 C1157.58,620.18 1159.90,621.68 1162.20,622.80 C1164.65,624.00 1166.83,627.01 1169.30,627.50 C1171.58,627.95 1174.44,626.43 1176.40,626.10 C1177.77,625.87 1178.61,625.40 1179.90,625.60 C1181.65,625.87 1183.56,627.70 1185.80,628.40 C1188.48,629.23 1190.25,629.51 1195.00,629.90 C1210.93,629.90 1264.73,629.90 1299.60,629.90" fill="none" stroke="#FF0000" stroke-width="1.5" stroke-linejoin="round"/>
<path d="M1021.90,629.90 L1021.90,590.00 C1023.40,584.30 1024.96,578.53 1026.40,572.90 C1027.79,567.43 1029.28,562.95 1030.40,556.70 C1031.89,548.37 1032.58,537.30 1033.70,527.20 C1034.88,516.53 1036.15,505.27 1037.30,494.30 C1038.45,483.34 1039.50,472.36 1040.60,461.40 C1041.70,450.46 1042.82,439.54 1043.90,428.60 C1044.98,417.64 1046.05,406.66 1047.10,395.70 C1048.15,384.76 1049.15,373.84 1050.20,362.90 C1051.25,351.94 1052.33,340.78 1053.40,330.00 C1054.43,319.59 1055.02,308.76 1056.50,299.30 C1057.79,291.04 1059.71,281.89 1061.40,276.30 C1062.41,272.96 1063.28,270.19 1064.50,268.50 C1065.26,267.45 1066.17,266.40 1067.00,266.40 C1067.83,266.40 1068.72,267.45 1069.50,268.50 C1070.76,270.19 1071.94,272.93 1072.90,276.30 C1074.48,281.87 1075.13,291.37 1076.20,299.30 C1077.34,307.77 1078.23,316.36 1079.50,325.60 C1080.92,335.94 1082.71,347.76 1084.40,358.40 C1086.01,368.53 1087.53,377.89 1089.40,388.00 C1091.37,398.69 1093.67,410.57 1096.00,420.90 C1098.09,430.18 1100.34,438.74 1102.60,447.20 C1104.72,455.14 1107.28,463.48 1109.10,470.20 C1110.51,475.40 1111.54,479.26 1112.70,484.10 C1113.95,489.35 1115.05,494.60 1116.30,500.60 C1117.79,507.76 1119.43,516.33 1121.00,524.20 C1122.57,532.07 1124.09,540.15 1125.70,547.80 C1127.23,555.06 1128.51,562.43 1130.40,569.00 C1132.10,574.90 1133.90,580.73 1136.30,585.50 C1138.35,589.57 1141.05,592.56 1143.40,596.10 C1145.75,599.63 1147.98,603.58 1150.40,606.70 C1152.53,609.45 1154.85,611.64 1157.00,614.00 C1159.04,616.23 1160.92,619.00 1163.00,620.50 C1164.65,621.69 1166.13,621.93 1168.10,622.80 C1170.77,623.98 1174.41,626.80 1177.60,626.90 C1180.75,627.00 1184.31,624.47 1187.10,623.50 C1189.30,622.73 1190.97,621.92 1193.00,621.50 C1195.06,621.08 1197.09,620.72 1199.40,621.00 C1202.29,621.34 1205.73,623.11 1208.90,624.10 C1212.06,625.08 1215.52,626.89 1218.40,626.90 C1220.80,626.91 1222.77,625.56 1225.00,625.00 C1227.27,624.43 1229.43,623.42 1231.90,623.50 C1234.82,623.59 1237.94,625.30 1241.40,626.20 C1245.52,627.27 1250.44,628.87 1255.00,629.40 C1259.50,629.90 1264.28,629.74 1268.60,629.40 C1272.58,629.09 1276.80,627.99 1280.00,627.60 C1282.31,627.32 1283.64,626.98 1286.00,627.10 C1289.44,627.28 1294.49,629.04 1298.60,629.50 C1302.48,629.90 1304.62,629.81 1310.00,629.90 C1323.01,629.90 1354.47,629.90 1376.70,629.90 L1376.70,629.90 Z" fill="#2ABDB4" fill-opacity="0.4" stroke="none"/>
<path d="M1021.90,590.00 C1023.40,584.30 1024.96,578.53 1026.40,572.90 C1027.79,567.43 1029.28,562.95 1030.40,556.70 C1031.89,548.37 1032.58,537.30 1033.70,527.20 C1034.88,516.53 1036.15,505.27 1037.30,494.30 C1038.45,483.34 1039.50,472.36 1040.60,461.40 C1041.70,450.46 1042.82,439.54 1043.90,428.60 C1044.98,417.64 1046.05,406.66 1047.10,395.70 C1048.15,384.76 1049.15,373.84 1050.20,362.90 C1051.25,351.94 1052.33,340.78 1053.40,330.00 C1054.43,319.59 1055.02,308.76 1056.50,299.30 C1057.79,291.04 1059.71,281.89 1061.40,276.30 C1062.41,272.96 1063.28,270.19 1064.50,268.50 C1065.26,267.45 1066.17,266.40 1067.00,266.40 C1067.83,266.40 1068.72,267.45 1069.50,268.50 C1070.76,270.19 1071.94,272.93 1072.90,276.30 C1074.48,281.87 1075.13,291.37 1076.20,299.30 C1077.34,307.77 1078.23,316.36 1079.50,325.60 C1080.92,335.94 1082.71,347.76 1084.40,358.40 C1086.01,368.53 1087.53,377.89 1089.40,388.00 C1091.37,398.69 1093.67,410.57 1096.00,420.90 C1098.09,430.18 1100.34,438.74 1102.60,447.20 C1104.72,455.14 1107.28,463.48 1109.10,470.20 C1110.51,475.40 1111.54,479.26 1112.70,484.10 C1113.95,489.35 1115.05,494.60 1116.30,500.60 C1117.79,507.76 1119.43,516.33 1121.00,524.20 C1122.57,532.07 1124.09,540.15 1125.70,547.80 C1127.23,555.06 1128.51,562.43 1130.40,569.00 C1132.10,574.90 1133.90,580.73 1136.30,585.50 C1138.35,589.57 1141.05,592.56 1143.40,596.10 C1145.75,599.63 1147.98,603.58 1150.40,606.70 C1152.53,609.45 1154.85,611.64 1157.00,614.00 C1159.04,616.23 1160.92,619.00 1163.00,620.50 C1164.65,621.69 1166.13,621.93 1168.10,622.80 C1170.77,623.98 1174.41,626.80 1177.60,626.90 C1180.75,627.00 1184.31,624.47 1187.10,623.50 C1189.30,622.73 1190.97,621.92 1193.00,621.50 C1195.06,621.08 1197.09,620.72 1199.40,621.00 C1202.29,621.34 1205.73,623.11 1208.90,624.10 C1212.06,625.08 1215.52,626.89 1218.40,626.90 C1220.80,626.91 1222.77,625.56 1225.00,625.00 C1227.27,624.43 1229.43,623.42 1231.90,623.50 C1234.82,623.59 1237.94,625.30 1241.40,626.20 C1245.52,627.27 1250.44,628.87 1255.00,629.40 C1259.50,629.90 1264.28,629.74 1268.60,629.40 C1272.58,629.09 1276.80,627.99 1280.00,627.60 C1282.31,627.32 1283.64,626.98 1286.00,627.10 C1289.44,627.28 1294.49,629.04 1298.60,629.50 C1302.48,629.90 1304.62,629.81 1310.00,629.90 C1323.01,629.90 1354.47,629.90 1376.70,629.90" fill="none" stroke="#2ABDB4" stroke-width="1.5" stroke-linejoin="round"/>
<path d="M1021.90,629.90 L1021.90,593.10 C1025.27,590.07 1028.76,587.37 1032.00,584.00 C1035.48,580.39 1038.95,576.08 1042.00,572.00 C1044.93,568.08 1047.40,564.20 1050.00,560.00 C1052.75,555.56 1055.33,550.67 1058.00,546.00 C1060.67,541.33 1063.33,536.67 1066.00,532.00 C1068.67,527.33 1071.25,522.44 1074.00,518.00 C1076.60,513.80 1079.23,509.70 1082.00,506.00 C1084.57,502.57 1087.07,499.53 1090.00,496.50 C1093.05,493.35 1096.58,490.22 1100.00,487.50 C1103.26,484.91 1107.02,482.19 1110.00,480.50 C1112.19,479.26 1113.96,478.45 1116.00,477.80 C1117.97,477.17 1120.00,476.65 1122.00,476.60 C1124.00,476.55 1126.24,476.94 1128.00,477.50 C1129.51,477.98 1130.55,478.42 1132.00,479.50 C1134.35,481.25 1137.52,484.64 1140.00,488.00 C1142.92,491.94 1145.45,496.97 1148.00,502.00 C1150.81,507.56 1153.49,513.97 1156.00,520.00 C1158.49,525.97 1160.64,532.10 1163.00,538.00 C1165.31,543.76 1167.66,549.86 1170.00,555.00 C1172.00,559.39 1173.92,563.22 1176.00,567.00 C1177.93,570.52 1179.81,574.20 1182.00,577.00 C1183.86,579.39 1185.61,581.59 1188.00,583.00 C1190.46,584.45 1193.58,585.44 1196.60,585.50 C1199.92,585.57 1203.41,584.27 1207.10,582.90 C1211.59,581.24 1216.59,577.87 1221.40,575.70 C1226.12,573.58 1231.29,571.17 1235.70,570.00 C1239.27,569.05 1242.39,568.38 1245.70,568.60 C1249.06,568.83 1252.18,569.88 1255.70,571.40 C1260.16,573.33 1265.34,576.76 1270.00,580.00 C1274.88,583.39 1279.54,587.59 1284.30,591.40 C1289.07,595.22 1293.77,599.28 1298.60,602.90 C1303.31,606.43 1308.09,609.78 1312.90,612.90 C1317.59,615.94 1322.00,619.06 1327.10,621.40 C1332.43,623.84 1338.28,625.82 1344.30,627.10 C1350.64,628.45 1356.73,628.63 1364.30,629.10 C1374.19,629.71 1387.17,629.63 1398.60,629.90 L1398.60,629.90 Z" fill="#8672FF" fill-opacity="0.4" stroke="none"/>
<path d="M1021.90,593.10 C1025.27,590.07 1028.76,587.37 1032.00,584.00 C1035.48,580.39 1038.95,576.08 1042.00,572.00 C1044.93,568.08 1047.40,564.20 1050.00,560.00 C1052.75,555.56 1055.33,550.67 1058.00,546.00 C1060.67,541.33 1063.33,536.67 1066.00,532.00 C1068.67,527.33 1071.25,522.44 1074.00,518.00 C1076.60,513.80 1079.23,509.70 1082.00,506.00 C1084.57,502.57 1087.07,499.53 1090.00,496.50 C1093.05,493.35 1096.58,490.22 1100.00,487.50 C1103.26,484.91 1107.02,482.19 1110.00,480.50 C1112.19,479.26 1113.96,478.45 1116.00,477.80 C1117.97,477.17 1120.00,476.65 1122.00,476.60 C1124.00,476.55 1126.24,476.94 1128.00,477.50 C1129.51,477.98 1130.55,478.42 1132.00,479.50 C1134.35,481.25 1137.52,484.64 1140.00,488.00 C1142.92,491.94 1145.45,496.97 1148.00,502.00 C1150.81,507.56 1153.49,513.97 1156.00,520.00 C1158.49,525.97 1160.64,532.10 1163.00,538.00 C1165.31,543.76 1167.66,549.86 1170.00,555.00 C1172.00,559.39 1173.92,563.22 1176.00,567.00 C1177.93,570.52 1179.81,574.20 1182.00,577.00 C1183.86,579.39 1185.61,581.59 1188.00,583.00 C1190.46,584.45 1193.58,585.44 1196.60,585.50 C1199.92,585.57 1203.41,584.27 1207.10,582.90 C1211.59,581.24 1216.59,577.87 1221.40,575.70 C1226.12,573.58 1231.29,571.17 1235.70,570.00 C1239.27,569.05 1242.39,568.38 1245.70,568.60 C1249.06,568.83 1252.18,569.88 1255.70,571.40 C1260.16,573.33 1265.34,576.76 1270.00,580.00 C1274.88,583.39 1279.54,587.59 1284.30,591.40 C1289.07,595.22 1293.77,599.28 1298.60,602.90 C1303.31,606.43 1308.09,609.78 1312.90,612.90 C1317.59,615.94 1322.00,619.06 1327.10,621.40 C1332.43,623.84 1338.28,625.82 1344.30,627.10 C1350.64,628.45 1356.73,628.63 1364.30,629.10 C1374.19,629.71 1387.17,629.63 1398.60,629.90" fill="none" stroke="#8672FF" stroke-width="1.5" stroke-linejoin="round"/>

<rect x="47" y="47" width="414" height="1" fill="#555"/>
<rect x="47" y="657" width="414" height="1" fill="#686868"/>
<rect x="47" y="48" width="1" height="609" fill="#868686"/>
<rect x="460" y="48" width="1" height="609" fill="#7c7c7c"/>

<rect x="525" y="47" width="414" height="1" fill="#555"/>
<rect x="525" y="657" width="414" height="1" fill="#686868"/>
<rect x="525" y="48" width="1" height="609" fill="#868686"/>
<rect x="938" y="48" width="1" height="609" fill="#7c7c7c"/>

<rect x="1003" y="47" width="414" height="1" fill="#555"/>
<rect x="1003" y="657" width="414" height="1" fill="#686868"/>
<rect x="1003" y="48" width="1" height="609" fill="#868686"/>
<rect x="1416" y="48" width="1" height="609" fill="#7c7c7c"/>

<line x1="42.50" y1="629.90" x2="47.50" y2="629.90" stroke="#333" stroke-width="1.25"/>
<text x="39.70" y="635.90" text-anchor="end" font-size="16.3" fill="#505050">0</text>

<line x1="42.50" y1="429.50" x2="47.50" y2="429.50" stroke="#333" stroke-width="1.25"/>
<text x="39.70" y="435.50" text-anchor="end" font-size="16.3" fill="#505050">5</text>

<line x1="42.50" y1="229.10" x2="47.50" y2="229.10" stroke="#333" stroke-width="1.25"/>
<text x="39.70" y="235.10" text-anchor="end" font-size="16.3" fill="#505050">10</text>

<line x1="520.50" y1="629.90" x2="525.50" y2="629.90" stroke="#333" stroke-width="1.25"/>
<text x="516.90" y="635.90" text-anchor="end" font-size="16.3" fill="#505050">0</text>

<line x1="520.50" y1="431.84" x2="525.50" y2="431.84" stroke="#333" stroke-width="1.25"/>
<text x="516.90" y="437.84" text-anchor="end" font-size="16.3" fill="#505050">2</text>

<line x1="520.50" y1="233.78" x2="525.50" y2="233.78" stroke="#333" stroke-width="1.25"/>
<text x="516.90" y="239.78" text-anchor="end" font-size="16.3" fill="#505050">4</text>

<line x1="998.50" y1="629.90" x2="1003.50" y2="629.90" stroke="#333" stroke-width="1.25"/>
<text x="995.40" y="635.90" text-anchor="end" font-size="16.3" fill="#505050">0.0</text>

<line x1="998.50" y1="470.80" x2="1003.50" y2="470.80" stroke="#333" stroke-width="1.25"/>
<text x="995.40" y="476.80" text-anchor="end" font-size="16.3" fill="#505050">2.5</text>

<line x1="998.50" y1="311.70" x2="1003.50" y2="311.70" stroke="#333" stroke-width="1.25"/>
<text x="995.40" y="317.70" text-anchor="end" font-size="16.3" fill="#505050">5.0</text>

<line x1="998.50" y1="152.60" x2="1003.50" y2="152.60" stroke="#333" stroke-width="1.25"/>
<text x="995.40" y="158.60" text-anchor="end" font-size="16.3" fill="#505050">7.5</text>

<text x="141.10" y="677.20" text-anchor="middle" font-size="16.3" fill="#505050">0.4</text>

<text x="619.20" y="677.20" text-anchor="middle" font-size="16.3" fill="#505050">0.4</text>

<text x="241.50" y="677.20" text-anchor="middle" font-size="16.3" fill="#505050">0.6</text>

<text x="719.60" y="677.20" text-anchor="middle" font-size="16.3" fill="#505050">0.6</text>

<text x="341.90" y="677.20" text-anchor="middle" font-size="16.3" fill="#505050">0.8</text>

<text x="820.00" y="677.20" text-anchor="middle" font-size="16.3" fill="#505050">0.8</text>

<text x="442.30" y="677.20" text-anchor="middle" font-size="16.3" fill="#505050">1.0</text>

<text x="920.40" y="677.20" text-anchor="middle" font-size="16.3" fill="#505050">1.0</text>

<text x="1022.00" y="677.20" text-anchor="middle" font-size="16.3" fill="#505050">0.00</text>

<text x="1116.15" y="677.20" text-anchor="middle" font-size="16.3" fill="#505050">0.25</text>

<text x="1210.30" y="677.20" text-anchor="middle" font-size="16.3" fill="#505050">0.50</text>

<text x="1304.45" y="677.20" text-anchor="middle" font-size="16.3" fill="#505050">0.75</text>

<text x="1398.60" y="677.20" text-anchor="middle" font-size="16.3" fill="#505050">1.00</text>

<text x="254.00" y="694.5" text-anchor="middle" font-size="19.5" fill="#000">β<tspan font-size="14" dy="4.2">SOR</tspan></text>

<text x="732.00" y="694.5" text-anchor="middle" font-size="19.5" fill="#000">β<tspan font-size="14" dy="4.2">SIM</tspan></text>

<text x="1210.00" y="694.5" text-anchor="middle" font-size="19.5" fill="#000">β<tspan font-size="14" dy="4.2">NES</tspan></text>

<text transform="translate(15.1,352.1) rotate(-90)" text-anchor="middle" font-size="19.3" fill="#000">Density</text>
<text x="-0.50" y="39.4" font-family="Liberation Sans, sans-serif" font-weight="bold" font-size="29.9" fill="#000">A</text>
<text x="481.00" y="39.4" font-family="Liberation Sans, sans-serif" font-weight="bold" font-size="29.9" fill="#000">B</text>
<text x="962.20" y="39.4" font-family="Liberation Sans, sans-serif" font-weight="bold" font-size="29.9" fill="#000">C</text>
<rect x="595.40" y="1.6" width="26.8" height="26.8" fill="#FF0000" fill-opacity="0.4" stroke="#FF0000" stroke-width="1.2"/>
<text x="633.00" y="20.5" font-size="16.3" fill="#000">shore</text>
<rect x="681.40" y="1.6" width="26.8" height="26.8" fill="#2ABDB4" fill-opacity="0.4" stroke="#2ABDB4" stroke-width="1.2"/>
<text x="719.20" y="20.5" font-size="16.3" fill="#000">boat</text>
<rect x="759.60" y="1.6" width="26.8" height="26.8" fill="#8672FF" fill-opacity="0.4" stroke="#8672FF" stroke-width="1.2"/>
<text x="797.20" y="20.5" font-size="16.3" fill="#000">spear</text>
</svg>
</body></html>
